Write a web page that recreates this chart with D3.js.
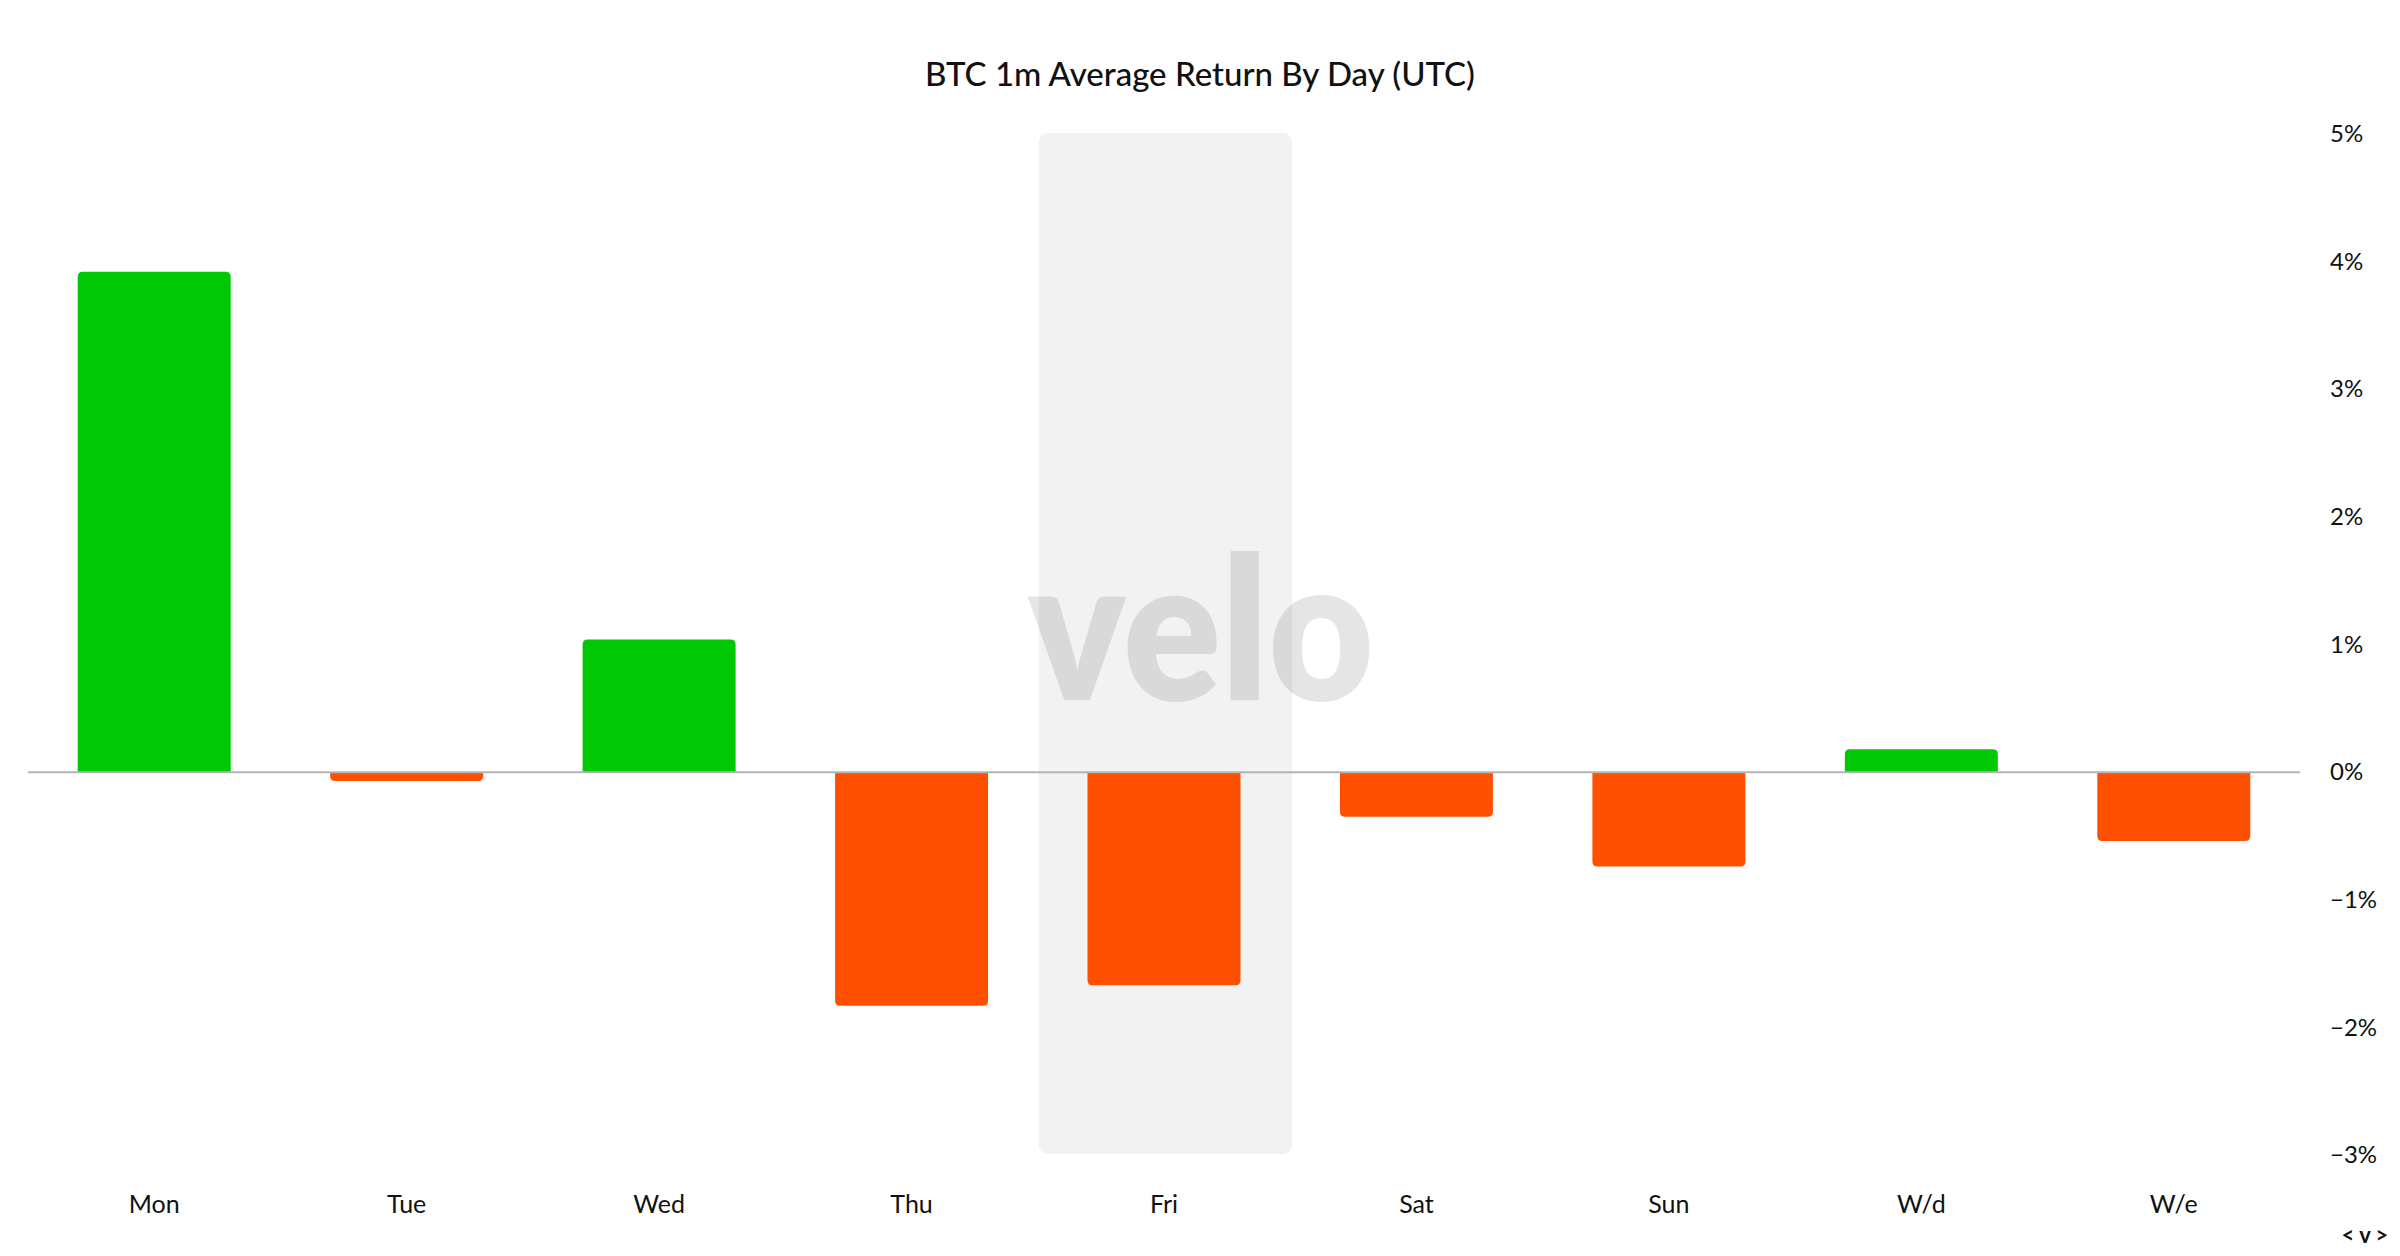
<!DOCTYPE html>
<html>
<head>
<meta charset="utf-8">
<script src="https://cdn.jsdelivr.net/npm/d3@7"></script>
<style>
  html, body { margin: 0; padding: 0; background: #ffffff; }
  svg { display: block; }
  text { font-family: Lato, Inter, "Noto Sans", sans-serif; }
</style>
</head>
<body>
<svg id="chart" width="2400" height="1256"></svg>
<script>
const title = "BTC 1m Average Return By Day (UTC)";
const categories = ["Mon", "Tue", "Wed", "Thu", "Fri", "Sat", "Sun", "W/d", "W/e"];
const values = [3.92, -0.07, 1.04, -1.83, -1.67, -0.35, -0.74, 0.18, -0.54];
const yTicks = [-3, -2, -1, 0, 1, 2, 3, 4, 5];
const highlighted = "Fri";

const plotLeft = 28, plotRight = 2300, plotTop = 134, plotBottom = 1155;
const svg = d3.select("#chart");

const x = d3.scaleBand().domain(categories).range([plotLeft, plotRight])
  .paddingInner(0.394).paddingOuter(0.197);
const y = d3.scaleLinear().domain([-3, 5]).range([plotBottom, plotTop]);

// highlight column
const step = x.step();
const hx = x(highlighted) + x.bandwidth() / 2 - step / 2;
svg.append("rect")
  .attr("x", hx + 1).attr("y", y(5) - 1)
  .attr("width", step + 1).attr("height", y(-3) - y(5))
  .attr("rx", 9).attr("fill", "#f2f2f2");

// watermark
svg.append("text")
  .attr("x", 1028).attr("y", 700)
  .attr("textLength", 346).attr("lengthAdjust", "spacingAndGlyphs")
  .attr("font-family", "Inter, Lato, sans-serif")
  .attr("font-weight", 800).attr("font-size", 200)
  .attr("fill", "rgba(0,0,0,0.1)")
  .text("velo");

// title
svg.append("text")
  .attr("x", 1200).attr("y", 86)
  .attr("text-anchor", "middle")
  .attr("font-size", 33).attr("font-weight", 500).attr("fill", "#111")
  .text(title);

// bars
function barPath(d, i) {
  const x0 = x(categories[i]), w = x.bandwidth();
  const y0 = y(0), y1 = y(d);
  const r = Math.min(5, Math.abs(y1 - y0));
  if (d >= 0) {
    return `M${x0},${y0} L${x0},${y1 + r} Q${x0},${y1} ${x0 + r},${y1} L${x0 + w - r},${y1} Q${x0 + w},${y1} ${x0 + w},${y1 + r} L${x0 + w},${y0} Z`;
  } else {
    return `M${x0},${y0} L${x0},${y1 - r} Q${x0},${y1} ${x0 + r},${y1} L${x0 + w - r},${y1} Q${x0 + w},${y1} ${x0 + w},${y1 - r} L${x0 + w},${y0} Z`;
  }
}
svg.append("g").selectAll("path")
  .data(values).join("path")
  .attr("d", barPath)
  .attr("fill", d => d >= 0 ? "#00c805" : "#ff5000");

// zero line
svg.append("line")
  .attr("x1", plotLeft).attr("x2", plotRight)
  .attr("y1", y(0)).attr("y2", y(0))
  .attr("stroke", "#b4b4b4").attr("stroke-width", 2);

// y axis on right
const yAxis = d3.axisRight(y).tickValues(yTicks).tickSize(0).tickPadding(30)
  .tickFormat(d => (d < 0 ? "\u2212" + Math.abs(d) : d) + "%");
const gy = svg.append("g").attr("transform", `translate(${plotRight},0)`).call(yAxis);
gy.select(".domain").remove();
gy.selectAll("text").attr("font-size", 24).attr("fill", "#111")
  .attr("font-family", "Lato, Inter, sans-serif");

// x axis labels
const xAxis = d3.axisBottom(x).tickSize(0).tickPadding(0);
const gx = svg.append("g").attr("transform", `translate(0,1195)`).call(xAxis);
gx.select(".domain").remove();
gx.selectAll("text").attr("font-size", 25).attr("fill", "#111")
  .attr("font-family", "Lato, Inter, sans-serif");

// nav glyph
svg.append("text")
  .attr("x", 2365).attr("y", 1243).attr("text-anchor", "middle")
  .attr("font-size", 22).attr("font-weight", 700).attr("fill", "#111")
  .text("< v >");
</script>
</body>
</html>
